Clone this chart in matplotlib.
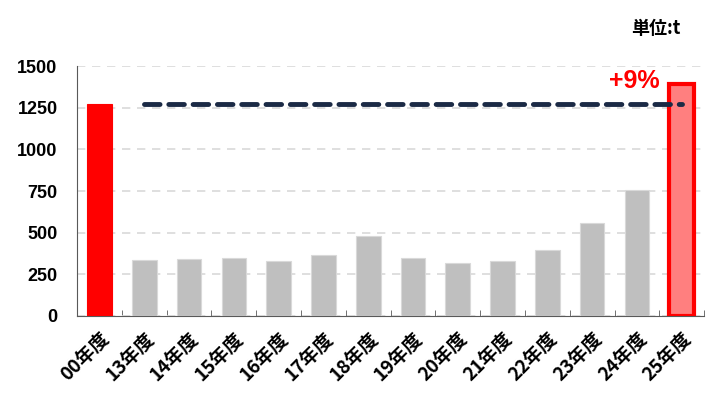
"""Annual tonnage bar chart, FY00 vs FY13-FY25."""

import matplotlib

matplotlib.use("Agg")

import matplotlib.pyplot as plt

plt.rcParams["font.family"] = ["Noto Sans CJK JP", "DejaVu Sans"]

years = ["00年度", "13年度", "14年度", "15年度", "16年度", "17年度", "18年度",
         "19年度", "20年度", "21年度", "22年度", "23年度", "24年度", "25年度"]
values = [1270, 336, 342, 348, 330, 366, 480, 350, 316, 330, 398, 558, 755, 1390]
baseline = 1270
y_ticks = [0, 250, 500, 750, 1000, 1250, 1500]

fig = plt.figure(figsize=(7.2, 4.13), dpi=100)
ax = fig.add_axes([0.107, 0.235, 0.871, 0.605])

x = list(range(len(years)))
colors = ["#ff0000"] + ["#bfbfbf"] * (len(years) - 2) + ["#ff7f7f"]
edges = ["#ff0000"] + ["#d9d9d9"] * (len(years) - 2) + ["#ff0000"]
widths = [0.8] + [0.8] * (len(years) - 2) + [3.0]
ax.bar(x, values, width=0.55, color=colors, edgecolor=edges,
       linewidth=widths, zorder=3)

ax.plot([x[1], x[-1]], [baseline, baseline], color="#1b2a45",
        linewidth=3.5, linestyle=(0, (3.2, 1.8)), dash_capstyle="round",
        zorder=4)

ax.text(x[-1] - 0.5, 1340, "+9%", color="#ff0000",
        fontsize=18, fontweight="bold", ha="right", va="bottom",
        family=["Liberation Sans", "DejaVu Sans"])
fig.text(0.945, 0.93, "単位:t", fontsize=13, fontweight="bold",
         ha="right", va="center")

ax.set_xlim(-0.5, len(years) - 0.5)
ax.set_ylim(0, 1500)
ax.set_yticks(y_ticks)
ax.set_yticklabels([str(v) for v in y_ticks], fontsize=13, fontweight="bold",
                   family=["Liberation Sans", "DejaVu Sans"])
ax.set_xticks(x)
ax.set_xticklabels(years, rotation=45, ha="right", rotation_mode="anchor",
                   fontsize=13.5, fontweight="bold")
ax.set_xticks([i + 0.5 for i in x], minor=True)
ax.tick_params(axis="x", which="major", length=0, pad=9)
ax.tick_params(axis="x", which="minor", length=4, direction="in",
               color="#595959")
ax.tick_params(axis="y", length=0, pad=14)

ax.grid(axis="y", color="#d9d9d9", linestyle=(0, (5, 4)), linewidth=1.2,
        zorder=0)
for side in ["top", "right"]:
    ax.spines[side].set_visible(False)
for side in ["left", "bottom"]:
    ax.spines[side].set_color("#595959")

fig.savefig("out.png", dpi=100)
plt.close(fig)
